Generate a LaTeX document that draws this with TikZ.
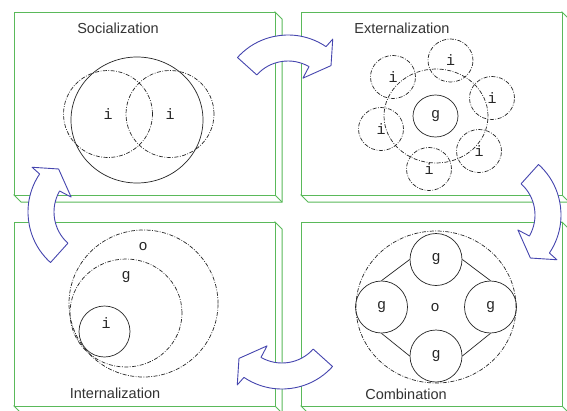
\documentclass[tikz,border=0pt]{standalone}
\usepackage{fontspec}
\setsansfont{Liberation Sans}
\setmonofont{Liberation Mono}
\usetikzlibrary{shapes.geometric}
\definecolor{panelgreen}{RGB}{90,185,90}
\definecolor{arrowblue}{RGB}{70,70,175}

\begin{document}
\begin{tikzpicture}[x=1pt,y=-1pt,
  panel/.style={draw=panelgreen,line width=1pt,fill=white},
  turn/.style={draw=arrowblue,line width=0.9pt,fill=white,line join=round},
  ring/.style={draw=black!85,shape=ellipse,inner sep=0pt,line width=0.7pt},
  dring/.style={ring,dash pattern=on 4pt off 1.5pt on 0.8pt off 1.5pt},
  phase/.style={font=\sffamily\fontsize{14.5}{17}\selectfont,text=black!80},
  lbl/.style={font=\ttfamily\fontsize{15}{17}\selectfont,text=black!85,inner sep=0pt},
  link/.style={draw=black!85,line width=0.7pt}]
  \useasboundingbox (0,0) rectangle (567,410);

  % the four slabs
  \foreach \xa/\ya/\xb/\yb in {14/12/275/195, 301/12/562/195, 14/222/275/406, 301/222/562/406} {
    \draw[panel] (\xb,\ya) -- ++(7,7) -- (\xb+7,\yb+7) -- (\xa+7,\yb+7) -- (\xa,\yb) -- cycle;
    \draw[panel] (\xa,\ya) rectangle (\xb,\yb);
    \draw[panel] (\xb,\yb) -- ++(7,7);
  }

  % socialization
  \node[phase] (soc) at (118,28) {Socialization};
  \node[ring,minimum width=132,minimum height=126] (sbig) at (137,120) {};
  \node[dring,lbl,minimum width=89,minimum height=87] (si1) at (108,114) {i};
  \node[dring,lbl,minimum width=88,minimum height=87] (si2) at (170,114) {i};

  % externalization
  \node[phase] (ext) at (402,28) {Externalization};
  \node[dring,minimum width=104,minimum height=94] (ebig) at (436,116) {};
  \node[ring,lbl,minimum width=45,minimum height=42] (eg) at (435.5,116) {g};
  \foreach \x/\y [count=\k] in {450.5/60.5, 393/77, 492/98, 381/129, 479/151, 429/169}
    \node[dring,lbl,minimum width=45,minimum height=43] (ei\k) at (\x,\y) {i};

  % internalization
  \node[phase] (int) at (115,393) {Internalization};
  \node[dring,minimum width=149,minimum height=147] (io) at (143.5,303.5) {};
  \node[dring,minimum width=112,minimum height=108] (ig) at (126,313) {};
  \node[ring,minimum size=51] (ii) at (104.5,331.5) {};
  \node[lbl] (iot) at (143,247) {o};
  \node[lbl] (igt) at (126,277) {g};
  \node[lbl] (iit) at (106,323) {i};

  % combination
  \node[phase] (com) at (406,394) {Combination};
  \node[dring,minimum width=160,minimum height=152] (co) at (436,307) {};
  \node[ring,lbl,minimum size=52] (cgt) at (436,259.5) {g};
  \node[ring,lbl,minimum size=52] (cgl) at (381.5,307) {g};
  \node[ring,lbl,minimum size=52] (cgr) at (490.5,307) {g};
  \node[ring,lbl,minimum size=52] (cgb) at (436,356) {g};
  \node[lbl] (cot) at (435,308) {o};
  \draw[link] (cgt.west) -- (cgl.north);
  \draw[link] (cgt.east) -- (cgr.north);
  \draw[link] (cgl.south) -- (cgb.west);
  \draw[link] (cgr.south) -- (cgb.east);

  % curved arrows between the phases
  \foreach \cx/\cy/\r in {288/103/0, 493/215/-90, 282/321/180, 96/212/90}
    \draw[turn,shift={(\cx,\cy)},rotate=\r] (-138:68) arc[start angle=-138,end angle=-56,radius=68]
      -- (-55:78) -- (-41:57) -- (-59:29) -- (-60:42) arc[start angle=-60,end angle=-138,radius=42] -- cycle;
\end{tikzpicture}
\end{document}
